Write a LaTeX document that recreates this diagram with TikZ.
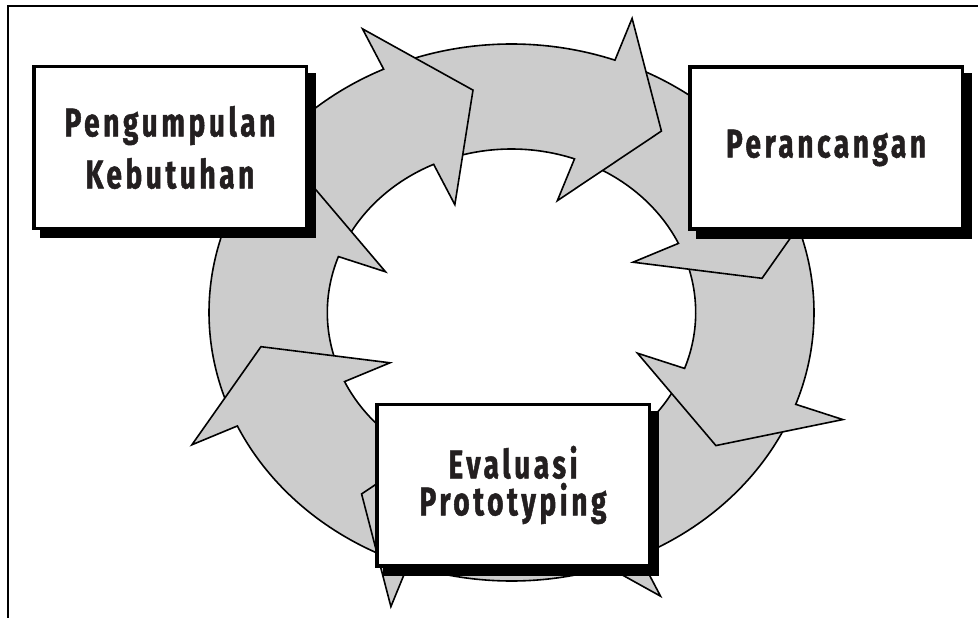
\documentclass[tikz,border=0pt]{standalone}
\usepackage{fontspec}
\usetikzlibrary{shadows}
\newfontfamily\cardfont{Fira Sans}[FakeStretch=0.7,LetterSpace=9,FakeBold=1.2]
\definecolor{ringgrey}{RGB}{204,204,204}
\definecolor{ink}{RGB}{35,31,32}
\begin{document}
\begin{tikzpicture}[x=1pt,y=-1pt,
  ringpart/.style={fill=ringgrey, draw=black, line width=1.6pt, line join=miter},
  card/.style={rectangle, draw=black, line width=3.5pt, fill=white,
    minimum width=272.5pt, minimum height=161.5pt, inner sep=0pt,
    align=center, text=ink,
    font=\cardfont\bfseries\fontsize{40}{52}\selectfont,
    drop shadow={shadow xshift=8pt, shadow yshift=-8pt, opacity=1,
      fill=black, draw=black, line width=3.5pt}}]
\useasboundingbox (0,0) rectangle (978,618);

% corner of the surrounding frame
\draw[line width=1.8pt] (8,618) -- (8,6) -- (978,6);

% ring of eight curved arrows, each head lying over the tail of the next
\begin{scope}[shift={(511.5,312.5)}, xscale=1.1266, yscale=-1]
  \foreach \a [evaluate=\a as \s using \a+45, evaluate=\a as \t using \a-16.26]
      in {-65,-20,25,70,115,160,-155,-110}
    \draw[ringpart] (\s:268.5) arc[start angle=\s, end angle=\a, radius=268.5]
      -- (\a:313) -- (\t:225) -- (\a:119) -- (\a:163.5)
      arc[start angle=\a, end angle=\s, radius=163.5] -- cycle;
\end{scope}

% the three stages
\node[card] (need) at (170,147.5) {Pengumpulan\\Kebutuhan};
\node[card] (design) at (826,148) {Perancangan};
\node[card, font=\cardfont\bfseries\fontsize{40}{37}\selectfont] (eval) at (513,485) {Evaluasi\\Prototyping};
\end{tikzpicture}
\end{document}
